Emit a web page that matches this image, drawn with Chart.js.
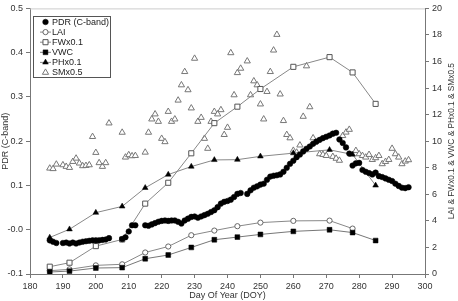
<!DOCTYPE html>
<html>
<head>
<meta charset="utf-8">
<script src="https://cdn.jsdelivr.net/npm/chart.js"></script>
<style>
  html, body { margin: 0; padding: 0; background: #fff; }
  #wrap { width: 458px; height: 301px; }
</style>
</head>
<body>
<div id="wrap"><canvas id="pdr-chart" width="458" height="301"></canvas></div>
<script>
// PDR (C-band), left axis
const pdrDoy = [186,187,188,190,191,192,193,194,195,196,197,198,199,200,201,202,203,204,
  208,209,210,211,212,215,216,217,218,219,220,221,222,223,224,225,226,227,228,229,230,
  231,232,233,234,235,236,237,238,239,240,241,242,243,244,246,247,248,249,250,251,252,
  253,254,255,256,257,258,259,260,261,262,263,264,265,266,267,268,269,270,271,272,273,
  274,275,276,277,278,279,280,281,282,283,284,285,286,287,288,289,290,291,292,293,294,295];
const pdrValues = [-0.024,-0.027,-0.030,-0.030,-0.029,-0.031,-0.029,-0.031,-0.029,-0.027,
  -0.026,-0.025,-0.024,-0.024,-0.024,-0.023,-0.022,-0.019,
  -0.021,-0.017,-0.004,0.010,0.010,0.010,0.009,0.012,0.015,0.018,0.020,0.021,0.020,0.021,
  0.021,0.018,0.014,0.021,0.025,0.029,0.030,0.027,0.030,0.033,0.036,0.040,0.044,0.051,
  0.059,0.063,0.065,0.068,0.074,0.081,0.083,0.081,0.089,0.095,0.098,0.102,0.104,0.113,
  0.120,0.122,0.123,0.125,0.131,0.140,0.149,0.156,0.164,0.170,0.177,0.183,0.188,0.194,
  0.199,0.203,0.207,0.210,0.213,0.217,0.219,0.204,0.196,0.186,0.172,0.145,0.150,0.151,
  0.135,0.131,0.128,0.125,0.129,0.121,0.119,0.116,0.113,0.110,0.104,0.099,0.095,0.094,0.096];

// field sampling dates, right axis
const sampleDoy = [186,192,200,208,215,222,229,236,243,250,260,271,278,285];
const laiValues = [0.25,0.35,0.65,0.73,1.62,2.07,2.92,3.27,3.6,3.87,4.0,4.02,3.42,null];
const fwValues  = [0.55,0.85,2.1,2.6,5.3,6.87,9.09,11.36,12.6,13.93,15.6,16.33,15.18,12.81];
const vwcValues = [0.15,0.22,0.45,0.48,1.15,1.43,2.0,2.58,2.78,2.98,3.21,3.33,3.12,2.52];
const phValues  = [2.75,3.37,4.62,5.09,6.49,7.49,8.09,8.59,8.61,8.86,9.1,9.35,9.0,6.67];

// soil moisture x0.5, right axis
const smDoy = [186,187,188,190,191,192,193,194,195,196,197,198,199,200,201,202,203,204,
  208,209,210,211,212,215,216,217,218,219,220,221,222,223,224,225,226,227,228,229,230,
  231,232,233,234,235,236,237,238,239,240,241,242,243,244,246,247,248,249,250,251,252,
  253,254,255,256,257,258,259,260,261,262,263,264,265,266,268,269,270,272,273,274,275,
  276,277,279,280,281,282,283,284,285,286,287,288,289,290,291,292,293,294,295];
const smValues = [7.96,7.92,8.26,8.21,8.09,8.01,8.46,8.71,8.34,8.14,8.16,8.21,10.34,9.14,
  8.37,8.09,8.37,11.36,10.66,8.79,8.97,8.89,8.91,9.16,10.66,11.66,12.04,11.48,10.2,9.95,
  12.23,11.48,11.66,13.08,14.23,15.23,13.86,12.49,16.23,11.48,11.78,10.2,9.45,11.48,12.23,
  12.04,12.36,10.49,11.03,16.65,13.48,15.15,15.48,16.03,13.48,14.53,14.23,12.79,11.66,13.73,
  15.23,16.85,18.03,13.54,11.54,10.49,10.24,9.3,9.16,9.7,11.86,15.66,12.58,10.24,9.04,8.99,
  8.91,8.84,8.7,8.55,10.41,10.67,10.88,9.29,9.04,8.91,8.79,8.99,8.61,8.74,8.91,8.29,8.46,
  8.61,9.45,9.04,8.79,8.29,8.49,8.59];

const FONT = "'Liberation Sans', Arial, sans-serif";
const TEXT = "#333";
const AXIS = "#777";
const rightTitle = "LAI & FWx0.1 & VWC & PHx0.1 & SMx0.5";

function pairs(xs, ys) {
  return xs.map((x, i) => ({ x: x, y: ys[i] }));
}

// legend drawn as a framed box inside the plot, plus the upward-reading right title
const boxLegend = {
  id: "boxLegend",
  afterDraw(chart) {
    const ctx = chart.ctx;
    const area = chart.chartArea;
    ctx.save();
    // light top frame line
    ctx.strokeStyle = "#ccc";
    ctx.lineWidth = 1;
    ctx.beginPath();
    ctx.moveTo(area.left, area.top + 0.5);
    ctx.lineTo(area.right, area.top + 0.5);
    ctx.stroke();

    // right axis title, rotated so it reads bottom to top
    ctx.save();
    ctx.translate(452, (area.top + area.bottom) / 2);
    ctx.rotate(-Math.PI / 2);
    ctx.font = "8.3px " + FONT;
    ctx.fillStyle = TEXT;
    ctx.textAlign = "center";
    ctx.textBaseline = "middle";
    ctx.fillText(rightTitle, 0, 0);
    ctx.restore();

    const bx = 33.5, by = 16.5, bw = 77, bh = 61;
    ctx.fillStyle = "#fff";
    ctx.fillRect(bx, by, bw, bh);
    ctx.strokeStyle = "#555";
    ctx.strokeRect(bx, by, bw, bh);

    const order = [0, 4, 3, 2, 1, 5]; // dataset indexes in legend order
    ctx.font = "9px " + FONT;
    ctx.textBaseline = "middle";
    order.forEach((di, row) => {
      const ds = chart.data.datasets[di];
      const y = 22 + row * 10.1;
      if (ds.showLine !== false) {
        ctx.strokeStyle = ds.borderColor;
        ctx.lineWidth = 1;
        ctx.beginPath();
        ctx.moveTo(40, y);
        ctx.lineTo(51, y);
        ctx.stroke();
      }
      ctx.fillStyle = ds.pointBackgroundColor;
      ctx.strokeStyle = ds.pointBorderColor;
      ctx.lineWidth = ds.pointBorderWidth;
      Chart.helpers.drawPoint(ctx, {
        pointStyle: ds.pointStyle,
        rotation: 0,
        radius: ds.pointRadius,
        borderWidth: ds.pointBorderWidth
      }, 45.5, y);
      ctx.fillStyle = "#222";
      ctx.fillText(ds.label, 52, y + 0.5);
    });
    ctx.restore();
  }
};

const ctx = document.getElementById("pdr-chart").getContext("2d");
new Chart(ctx, {
  type: "line",
  data: {
    datasets: [
      {
        label: "PDR (C-band)",
        data: pairs(pdrDoy, pdrValues),
        yAxisID: "y",
        showLine: false,
        pointStyle: "circle",
        pointRadius: 2.8,
        pointBackgroundColor: "#000",
        pointBorderColor: "#000",
        pointBorderWidth: 0.5,
        borderColor: "#000",
        order: 0
      },
      {
        label: "PHx0.1",
        data: pairs(sampleDoy, phValues),
        yAxisID: "y2",
        borderColor: "#888",
        borderWidth: 1,
        pointStyle: "triangle",
        pointRadius: 3.3,
        pointBackgroundColor: "#000",
        pointBorderColor: "#000",
        pointBorderWidth: 0.5,
        order: 1
      },
      {
        label: "VWC",
        data: pairs(sampleDoy, vwcValues),
        yAxisID: "y2",
        borderColor: "#777",
        borderWidth: 1,
        pointStyle: "rect",
        pointRadius: 3.4,
        pointBackgroundColor: "#000",
        pointBorderColor: "#000",
        pointBorderWidth: 0.5,
        order: 2
      },
      {
        label: "FWx0.1",
        data: pairs(sampleDoy, fwValues),
        yAxisID: "y2",
        borderColor: "#888",
        borderWidth: 1,
        pointStyle: "rect",
        pointRadius: 3.6,
        pointBackgroundColor: "#fff",
        pointBorderColor: "#555",
        pointBorderWidth: 1,
        order: 3
      },
      {
        label: "LAI",
        data: pairs(sampleDoy, laiValues),
        yAxisID: "y2",
        borderColor: "#888",
        borderWidth: 1,
        pointStyle: "circle",
        pointRadius: 2.6,
        pointBackgroundColor: "#fff",
        pointBorderColor: "#666",
        pointBorderWidth: 1,
        order: 4
      },
      {
        label: "SMx0.5",
        data: pairs(smDoy, smValues),
        yAxisID: "y2",
        showLine: false,
        pointStyle: "triangle",
        pointRadius: 3.6,
        pointBackgroundColor: "#fff",
        pointBorderColor: "#777",
        pointBorderWidth: 1,
        borderColor: "#777",
        order: 5
      }
    ]
  },
  options: {
    responsive: false,
    animation: false,
    devicePixelRatio: 1,
    layout: { padding: { top: 7, left: 0, right: 0, bottom: 0 } },
    plugins: {
      legend: { display: false },
      tooltip: { enabled: false }
    },
    scales: {
      x: {
        type: "linear",
        position: "bottom",
        min: 180,
        max: 300,
        ticks: { stepSize: 10, color: TEXT, font: { family: FONT, size: 9 }, padding: 3, maxRotation: 0 },
        grid: { drawOnChartArea: false, tickLength: 4, color: AXIS },
        border: { color: AXIS },
        title: { display: true, text: "Day Of Year (DOY)", color: TEXT, font: { family: FONT, size: 9 }, padding: 0 },
        afterFit: (s) => { s.height = 27; }
      },
      y: {
        position: "left",
        min: -0.1,
        max: 0.5,
        ticks: {
          stepSize: 0.1,
          color: TEXT,
          font: { family: FONT, size: 9 },
          padding: 3,
          callback: (v) => Number(v).toFixed(1)
        },
        grid: { drawOnChartArea: false, tickLength: 4, color: AXIS },
        border: { color: AXIS },
        title: { display: true, text: "PDR (C-band)", color: TEXT, font: { family: FONT, size: 9 }, padding: 0 },
        afterFit: (s) => { s.width = 30; }
      },
      y2: {
        position: "right",
        min: 0,
        max: 20,
        ticks: { stepSize: 2, color: TEXT, font: { family: FONT, size: 9 }, padding: 3 },
        grid: { drawOnChartArea: false, tickLength: 4, color: AXIS },
        border: { color: AXIS },
        afterFit: (s) => { s.width = 33; }
      }
    }
  },
  plugins: [boxLegend]
});
</script>
</body>
</html>
